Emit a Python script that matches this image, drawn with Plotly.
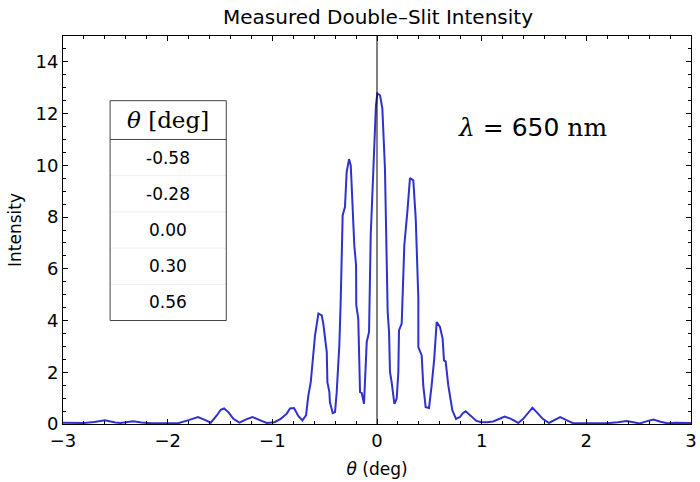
import plotly.graph_objects as go

# ---- data ----
theta_deg = [
    -3.0, -2.9, -2.8, -2.7, -2.6, -2.5, -2.45, -2.33, -2.25, -2.15, -2.0, -1.9,
    -1.8, -1.71, -1.64, -1.588, -1.531, -1.493, -1.461, -1.42, -1.372, -1.315,
    -1.25, -1.19, -1.12, -1.054, -0.98, -0.92, -0.862, -0.831, -0.793, -0.752,
    -0.713, -0.678, -0.656, -0.633, -0.592, -0.56, -0.528, -0.513, -0.48, -0.474,
    -0.455, -0.45, -0.423, -0.401, -0.385, -0.36, -0.347, -0.328, -0.306, -0.29,
    -0.267, -0.251, -0.245, -0.217, -0.2, -0.198, -0.179, -0.162, -0.146, -0.124,
    -0.098, -0.076, -0.06, -0.035, -0.01, 0.003, 0.029, 0.051, 0.076, 0.102,
    0.115, 0.124, 0.14, 0.166, 0.188, 0.204, 0.21, 0.236, 0.261, 0.29, 0.315,
    0.347, 0.37, 0.395, 0.395, 0.427, 0.442, 0.465, 0.497, 0.522, 0.547, 0.57,
    0.602, 0.627, 0.64, 0.656, 0.681, 0.72, 0.755, 0.793, 0.82, 0.847, 0.888,
    0.95, 0.99, 1.05, 1.11, 1.17, 1.22, 1.28, 1.35, 1.397, 1.445, 1.485, 1.525,
    1.583, 1.643, 1.7, 1.75, 1.81, 1.875, 2.0, 2.1, 2.2, 2.3, 2.385, 2.45, 2.51,
    2.58, 2.64, 2.7, 2.77, 2.85, 2.92, 3.0,
]
intensity = [
    0.05, 0.05, 0.04, 0.08, 0.14, 0.06, 0.04, 0.11, 0.06, 0.03, 0.03, 0.03,
    0.15, 0.27, 0.15, 0.05, 0.33, 0.55, 0.60, 0.46, 0.20, 0.05,
    0.18, 0.27, 0.15, 0.04, 0.07, 0.20, 0.40, 0.60, 0.62, 0.31,
    0.14, 0.33, 1.10, 1.62, 3.43, 4.27, 4.20, 3.88, 2.78, 1.62,
    1.23, 0.85, 0.42, 0.46, 1.23, 3.04, 4.72, 8.07, 8.39, 9.74,
    10.24, 10.00, 9.49, 6.91, 6.14, 4.59, 4.07, 1.23, 1.20, 0.78,
    3.17, 3.56, 7.30, 9.88, 12.33, 12.78, 12.71, 12.20, 9.88, 4.33,
    3.56, 2.01, 1.62, 0.78, 0.98, 2.01, 3.62, 3.88, 6.91, 8.20, 9.51,
    9.42, 7.94, 4.85, 2.97, 2.65, 1.49, 0.65, 0.62, 1.49, 2.53, 3.94,
    3.75, 3.30, 2.46, 2.42, 1.49, 0.53, 0.20, 0.27, 0.42, 0.49, 0.33,
    0.12, 0.08, 0.07, 0.10, 0.22, 0.29, 0.20, 0.04, 0.20, 0.46, 0.63, 0.46,
    0.20, 0.04, 0.18, 0.27, 0.15, 0.03, 0.03, 0.03, 0.03, 0.07, 0.12, 0.07, 0.02,
    0.11, 0.17, 0.10, 0.03, 0.05, 0.05, 0.04,
]
table_header = "<i>θ</i> [deg]"
table_values = ["-0.58", "-0.28", "0.00", "0.30", "0.56"]
x_ticks = [-3, -2, -1, 0, 1, 2, 3]
y_ticks = [0, 2, 4, 6, 8, 10, 12, 14]

SANS = "DejaVu Sans"
SERIF = "DejaVu Serif"

fig = go.Figure()
fig.add_trace(go.Scatter(
    x=theta_deg, y=intensity, mode="lines",
    line=dict(color="#3030cc", width=2),
    showlegend=False, hoverinfo="skip",
))

# vertical line at theta = 0
fig.add_shape(type="line", xref="x", yref="paper", x0=0, x1=0, y0=0, y1=1,
              line=dict(color="black", width=1))

# table (box)
tx0, tx1 = -2.55, -1.44
ty0, ty1, thead = 4.0, 12.5, 11.0
row_h = (thead - ty0) / len(table_values)
for i in range(1, len(table_values)):
    yy = thead - i * row_h
    fig.add_shape(type="line", xref="x", yref="y", x0=tx0, x1=tx1, y0=yy, y1=yy,
                  line=dict(color="#ededed", width=1))
fig.add_shape(type="rect", xref="x", yref="y", x0=tx0, x1=tx1, y0=ty0, y1=ty1,
              line=dict(color="#444444", width=1))
fig.add_shape(type="line", xref="x", yref="y", x0=tx0, x1=tx1, y0=thead, y1=thead,
              line=dict(color="#444444", width=1))
fig.add_annotation(x=(tx0 + tx1) / 2, y=(thead + ty1) / 2, xref="x", yref="y",
                   text=table_header, showarrow=False,
                   font=dict(family=SERIF, size=23, color="black"))
for i, v in enumerate(table_values):
    fig.add_annotation(x=(tx0 + tx1) / 2, y=thead - (i + 0.5) * row_h,
                       xref="x", yref="y", text=v, showarrow=False,
                       font=dict(family=SANS, size=17, color="black"))

# lambda label
fig.add_annotation(
    x=1.49, y=11.47, xref="x", yref="y", showarrow=False,
    text=("<span style='font-family:\"DejaVu Serif\"'><i>λ</i> = </span>"
          "650"
          "<span style='font-family:\"DejaVu Serif\"'> nm</span>"),
    font=dict(family=SANS, size=25, color="black"),
)

axis_common = dict(
    showline=True, linecolor="black", linewidth=1, mirror="allticks",
    ticks="inside", ticklen=5, tickcolor="black", tickwidth=1,
    showgrid=False, zeroline=False, automargin=False,
    tickfont=dict(family=SANS, size=18, color="black"),
)
fig.update_xaxes(
    range=[-3, 3], tickvals=x_ticks,
    minor=dict(dtick=0.2, ticks="inside", ticklen=3, tickcolor="black", showgrid=False),
    title=dict(text="<i>θ</i> (deg)", font=dict(family=SANS, size=17, color="black"),
               standoff=13),
    **axis_common,
)
fig.update_yaxes(
    range=[0, 15], tickvals=y_ticks,
    minor=dict(dtick=0.5, ticks="inside", ticklen=3, tickcolor="black", showgrid=False),
    title=dict(text="Intensity", font=dict(family=SANS, size=17, color="black"),
               standoff=9),
    **axis_common,
)
fig.update_layout(
    width=700, height=482,
    margin=dict(l=63, r=9, t=36, b=58),
    paper_bgcolor="white", plot_bgcolor="white",
    title=dict(text="Measured Double–Slit Intensity", x=0.54, xanchor="center",
               y=0.965, yanchor="middle", automargin=False,
               font=dict(family=SANS, size=20, color="black")),
)
fig.write_html(
    "out.html",
    config={"displayModeBar": False},
    post_script="document.body.style.margin='0';document.body.style.overflow='hidden';",
)
